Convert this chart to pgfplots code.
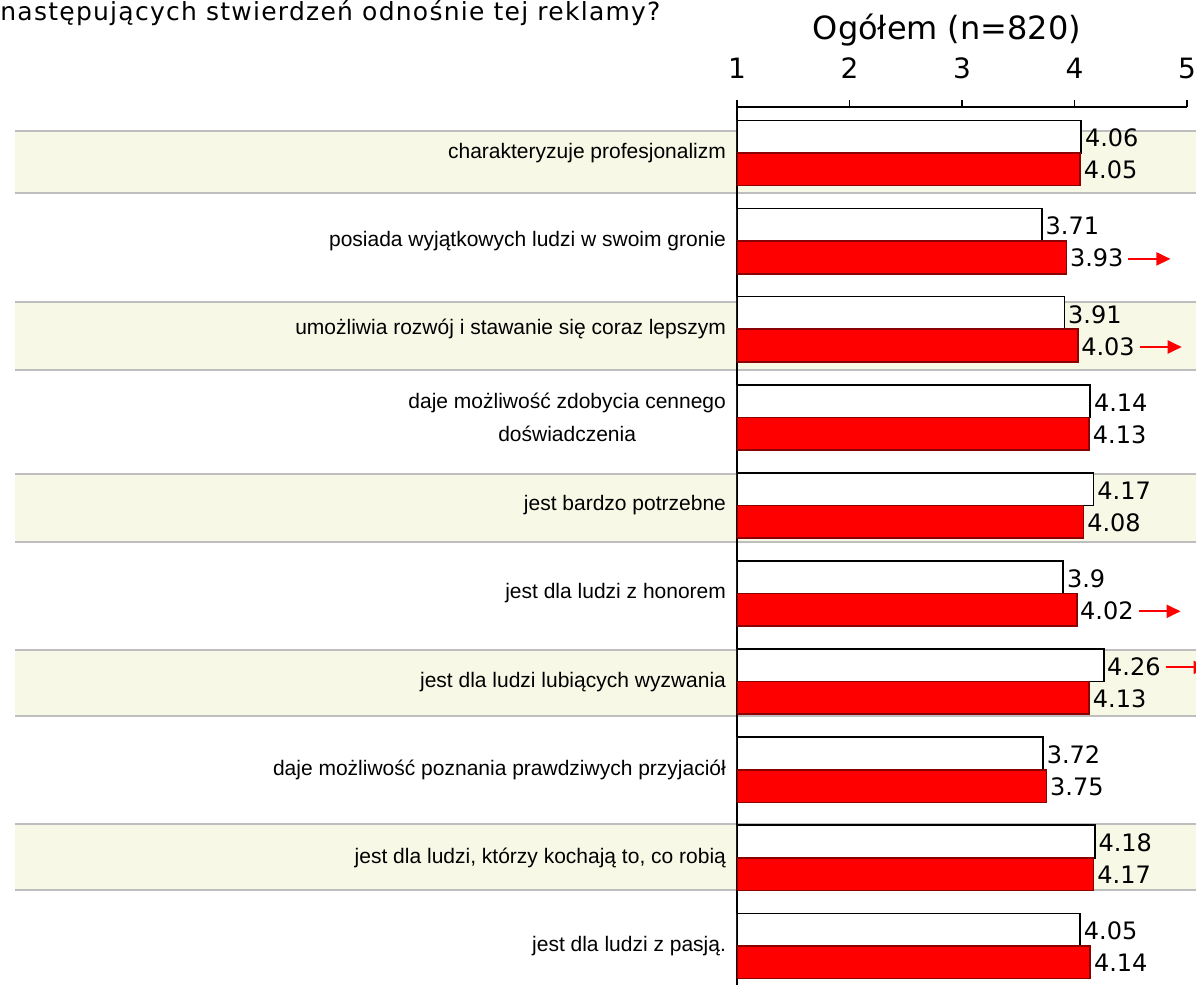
\documentclass[border=0pt]{standalone}
\usepackage{fontspec}
\setmainfont{DejaVu Sans}
\newfontfamily\labfont{Liberation Sans}
\usepackage{pgfplots}
\pgfplotsset{compat=1.18}
\usepackage{pgfplotstable}
\usetikzlibrary{arrows.meta}
\definecolor{band}{HTML}{F8F8E6}
\definecolor{sepc}{HTML}{BEBEBE}
\definecolor{barred}{HTML}{FF0000}
\definecolor{redline}{HTML}{8B0000}
\newcommand\redarrow{\tikz[baseline=0pt, x=1pt, y=1pt]\draw[red, line width=1pt, -{Triangle[length=7pt,width=6.5pt]}] (0,4) -- (21,4);}

% y = 11 - category index (category 1 at top)
\pgfplotstableread{
y x lab arr
10 4.06 4.06 0
9 3.71 3.71 0
8 3.91 3.91 0
7 4.14 4.14 0
6 4.17 4.17 0
5 3.90 3.9 0
4 4.26 4.26 1
3 3.72 3.72 0
2 4.18 4.18 0
1 4.05 4.05 0
}\whitedata
\pgfplotstableread{
y x lab arr
10 4.05 4.05 0
9 3.93 3.93 1
8 4.03 4.03 1
7 4.13 4.13 0
6 4.08 4.08 0
5 4.02 4.02 1
4 4.13 4.13 0
3 3.75 3.75 0
2 4.17 4.17 0
1 4.14 4.14 0
}\reddata

\begin{document}
\begin{tikzpicture}
\useasboundingbox (0,0) rectangle (598pt,-492.5pt);
\begin{scope}[x=0.5pt,y=-0.5pt]
 \foreach \a/\b in {131/193,302/370,474/542,650/716,824/890} {\fill[band] (15,\a) rectangle (1196,\b);}
 \foreach \c in {131,193,302,370,474,542,650,716,824,890} {\draw[sepc, line width=1pt] (15,\c) -- (1196,\c);}
 \node[anchor=base west, font=\fontsize{12.5}{14}\selectfont\addfontfeature{LetterSpace=5}, inner sep=0] at (0,20) {następujących stwierdzeń odnośnie tej reklamy?};
 \node[font=\fontsize{16}{18}\selectfont] at (947,30) {Ogółem (n=820)};
\end{scope}
\begin{axis}[
  at={(368.5pt,-53.5pt)}, anchor=north west,
  scale only axis, width=225pt, height=441.5pt,
  xmin=1, xmax=5, ymin=0.5, ymax=10.523,
  axis x line*=top, axis y line*=left,
  axis line style={line width=1pt, black},
  xtick={1,2,3,4,5},
  xticklabel style={font=\fontsize{14}{14}\selectfont, yshift=7pt},
  /pgf/number format/assume math mode=true,
  tick align=outside,
  major tick length=3.5pt,
  minor tick length=3.5pt,
  tick style={black, line width=0.8pt},
  ytick={1,...,10},
  ytick style={draw=none},
  minor ytick={0.5,1.5,...,10.5},
  yticklabels={
    {jest dla ludzi z pasją.},
    {jest dla ludzi, którzy kochają to, co robią},
    {daje możliwość poznania prawdziwych przyjaciół},
    {jest dla ludzi lubiących wyzwania},
    {jest dla ludzi z honorem},
    {jest bardzo potrzebne},
    {daje możliwość zdobycia cennego\\doświadczenia},
    {umożliwia rozwój i stawanie się coraz lepszym},
    {posiada wyjątkowych ludzi w swoim gronie},
    {charakteryzuje profesjonalizm}},
  yticklabel style={font=\labfont\fontsize{10.5}{16.5}\selectfont, align=center, anchor=east, xshift=1.5pt},
  clip mode=individual,
]
\addplot[xbar, bar width=0.37, bar shift=0.185, fill=white, draw=black, line width=0.8pt,
  point meta=explicit symbolic,
  visualization depends on={\thisrow{arr} \as \arrflag},
  nodes near coords={\pgfplotspointmeta\ifdim\arrflag pt>0.5pt\hspace{2pt}\redarrow\fi},
  nodes near coords style={anchor=west, font=\fontsize{12}{12}\selectfont, inner xsep=1.5pt, text=black, yshift=7.5pt}]
  table[x=x, y=y, meta=lab]{\whitedata};
\addplot[xbar, bar width=0.37, bar shift=-0.185, fill=barred, draw=redline, line width=0.8pt,
  point meta=explicit symbolic,
  visualization depends on={\thisrow{arr} \as \arrflag},
  nodes near coords={\pgfplotspointmeta\ifdim\arrflag pt>0.5pt\hspace{2pt}\redarrow\fi},
  nodes near coords style={anchor=west, font=\fontsize{12}{12}\selectfont, inner xsep=1.5pt, text=black, yshift=-8.5pt}]
  table[x=x, y=y, meta=lab]{\reddata};
\end{axis}
\end{tikzpicture}
\end{document}
